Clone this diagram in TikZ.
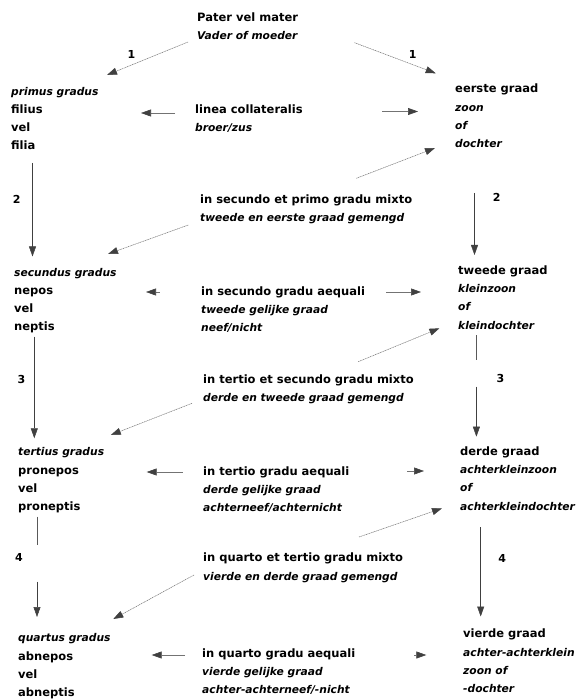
\documentclass[tikz,border=0pt]{standalone}
\usepackage{fontspec}
\setmainfont{DejaVu Sans}
\usetikzlibrary{arrows.meta}
\newcommand\myit{\fontsize{10.7}{18.2}\selectfont\itshape}
\begin{document}
\begin{tikzpicture}[x=1pt,y=-1pt,
  blk/.style={anchor=north west,inner sep=0pt,align=left,font=\fontsize{11.5}{18.2}\selectfont\bfseries},
  num/.style={inner sep=0pt,font=\fontsize{11}{12}\selectfont\bfseries},
  tip/.style={arrows={-{Triangle[length=10pt,width=7pt,fill=black!75,color=black!75]}}},
  diag/.style={draw=black!55,line width=0.5pt,dash pattern=on 1.2pt off 0.6pt,tip},
  hor/.style={draw=black!55,line width=0.6pt,tip},
  vert/.style={draw=black!75,line width=0.5pt,tip},
  vline/.style={draw=black!65,line width=0.5pt}]
\useasboundingbox (0,0) rectangle (579,700);
% text blocks
\node[blk] (top) at (197,12.5) {Pater vel mater\\\myit Vader of moeder};
\node[blk] (c1) at (11,87) {\myit primus gradus\\filius\\vel\\filia};
\node[blk] (m1) at (195,104.5) {linea collateralis\\\myit broer/zus};
\node[blk] (r1) at (455,84) {eerste graad\\\myit zoon\\\myit of\\\myit dochter};
\node[blk] (m2) at (200,194.5) {in secundo et primo gradu mixto\\\myit tweede en eerste graad gemengd};
\node[blk] (c2) at (14,268) {\myit secundus gradus\\nepos\\vel\\neptis};
\node[blk] (m3) at (201,286.5) {in secundo gradu aequali\\\myit tweede gelijke graad\\\myit neef/nicht};
\node[blk] (r2) at (458,265.5) {tweede graad\\\myit kleinzoon\\\myit of\\\myit kleindochter};
\node[blk] (m4) at (203,374.5) {in tertio et secundo gradu mixto\\\myit derde en tweede graad gemengd};
\node[blk] (c3) at (18,447.5) {\myit tertius gradus\\pronepos\\vel\\proneptis};
\node[blk] (m5) at (203,466.5) {in tertio gradu aequali\\\myit derde gelijke graad\\\myit achterneef/achternicht};
\node[blk] (r3) at (460,446.5) {derde graad\\\myit achterkleinzoon\\\myit of\\\myit achterkleindochter};
\node[blk] (m6) at (203,553) {in quarto et tertio gradu mixto\\\myit vierde en derde graad gemengd};
\node[blk] (c4) at (18,633.5) {\myit quartus gradus\\abnepos\\vel\\abneptis};
\node[blk] (m7) at (202,648.5) {in quarto gradu aequali\\\myit vierde gelijke graad\\\myit achter-achterneef/-nicht};
\node[blk] (r4) at (463,629) {vierde graad\\\myit achter-achterklein\\\myit zoon of\\\myit -dochter};
% numbers
\node[num] (n1a) at (131.5,54) {1};
\node[num] (n1b) at (412.8,54) {1};
\node[num] (n2a) at (16.7,199) {2};
\node[num] (n2b) at (496.7,197.7) {2};
\node[num] (n3a) at (21.4,379) {3};
\node[num] (n3b) at (500.4,378) {3};
\node[num] (n4a) at (19,557) {4};
\node[num] (n4b) at (502.3,558) {4};
% connector end points
\coordinate (t1s) at (188,42); \coordinate (t1e) at (107,75);
\coordinate (t2s) at (354.5,42.7); \coordinate (t2e) at (435.7,73.3);
\coordinate (a1s) at (356.3,178.3); \coordinate (a1e) at (435,148);
\coordinate (b1s) at (188.3,225); \coordinate (b1e) at (108,254);
\coordinate (a2s) at (358.2,361.7); \coordinate (a2e) at (439.4,328.3);
\coordinate (b2s) at (192,403.3); \coordinate (b2e) at (110.8,435);
\coordinate (a3s) at (359,537); \coordinate (a3e) at (442,508.3);
\coordinate (b3s) at (194,575); \coordinate (b3e) at (113.3,619);
\coordinate (h1l) at (175,113); \coordinate (h1le) at (141,113);
\coordinate (h1r) at (382,111.5); \coordinate (h1re) at (418,111.5);
\coordinate (h2l) at (159.5,292); \coordinate (h2le) at (146,292);
\coordinate (h2r) at (386,292); \coordinate (h2re) at (421,292);
\coordinate (h3l) at (182.7,472); \coordinate (h3le) at (146.7,472);
\coordinate (h3r) at (407.3,471); \coordinate (h3re) at (424,471);
\coordinate (h4l) at (185,655); \coordinate (h4le) at (151.7,655);
\coordinate (h4r) at (414,655); \coordinate (h4re) at (426.3,655);
\coordinate (v1s) at (32.5,163); \coordinate (v1e) at (32.5,256.5);
\coordinate (w1s) at (474.5,193); \coordinate (w1e) at (474.5,255);
\coordinate (v2s) at (34.3,336.7); \coordinate (v2e) at (34.3,438.3);
\coordinate (w2s) at (476.4,335); \coordinate (w2m) at (476.4,360);
\coordinate (w2n) at (476.4,386.7); \coordinate (w2e) at (476.4,436.7);
\coordinate (v3s) at (37,516.7); \coordinate (v3m) at (37,545);
\coordinate (v3n) at (37,581.7); \coordinate (v3e) at (37,617);
\coordinate (w3s) at (480.7,527.3); \coordinate (w3e) at (480.7,616.5);
% diagonals
\draw[diag] (t1s) -- (t1e);
\draw[diag] (t2s) -- (t2e);
\draw[diag] (a1s) -- (a1e);
\draw[diag] (b1s) -- (b1e);
\draw[diag] (a2s) -- (a2e);
\draw[diag] (b2s) -- (b2e);
\draw[diag] (a3s) -- (a3e);
\draw[diag] (b3s) -- (b3e);
% horizontals
\draw[hor] (h1l) -- (h1le);
\draw[hor] (h1r) -- (h1re);
\draw[hor] (h2l) -- (h2le);
\draw[hor] (h2r) -- (h2re);
\draw[hor] (h3l) -- (h3le);
\draw[hor] (h3r) -- (h3re);
\draw[hor] (h4l) -- (h4le);
\draw[hor] (h4r) -- (h4re);
% verticals
\draw[vert] (v1s) -- (v1e);
\draw[vert] (w1s) -- (w1e);
\draw[vert] (v2s) -- (v2e);
\draw[vline] (w2s) -- (w2m);
\draw[vert] (w2n) -- (w2e);
\draw[vline] (v3s) -- (v3m);
\draw[vert] (v3n) -- (v3e);
\draw[vert] (w3s) -- (w3e);
\end{tikzpicture}
\end{document}
